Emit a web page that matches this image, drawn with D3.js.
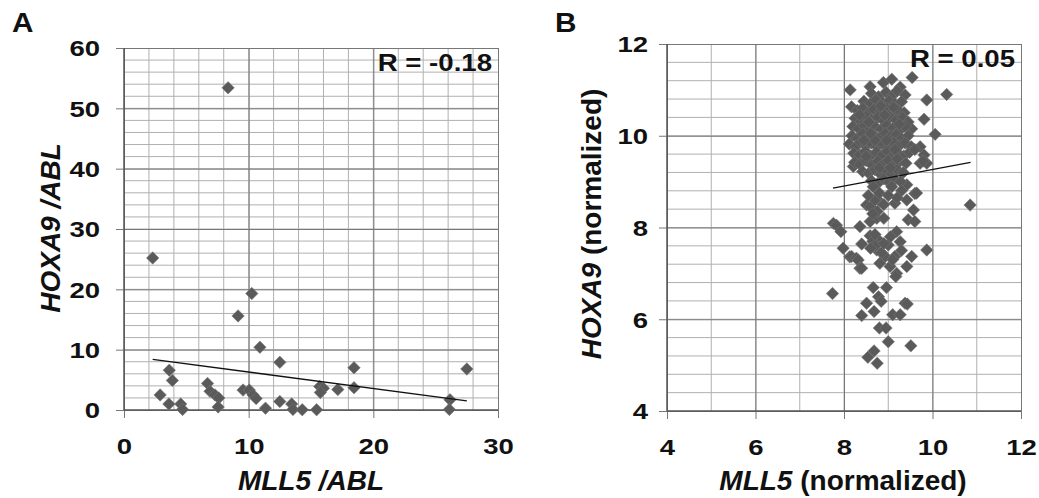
<!DOCTYPE html>
<html>
<head>
<meta charset="utf-8">
<script src="https://cdn.jsdelivr.net/npm/d3@7"></script>
<style>
  body { margin: 0; background: #fff; }
  text { font-family: "Liberation Sans", Arial, sans-serif; font-weight: bold; fill: #111; }
</style>
</head>
<body>
<div id="chart"></div>
<script>
// panel A: MLL5/ABL vs HOXA9/ABL (qPCR)
const aPoints = [
    [8.35,53.4],[2.3,25.2],[10.25,19.3],[9.15,15.6],[10.9,10.4],[12.5,7.9],[18.45,7.0],[27.5,6.8],
    [3.63,6.6],[3.88,4.9],[2.9,2.5],[3.6,1.0],[4.55,1.0],[4.7,0.1],[6.7,4.4],[6.9,3.1],[7.3,2.5],
    [7.6,2.0],[7.55,0.5],[9.55,3.3],[10.05,3.3],[10.35,2.5],[10.6,1.9],[11.35,0.3],[12.5,1.4],
    [13.45,1.0],[13.55,0.1],[14.3,0.05],[15.45,0.05],[15.7,3.9],[16.0,3.6],[15.75,2.9],[17.15,3.4],
    [18.45,3.7],[26.15,1.7],[26.1,0.1]
];
const aTrend = [[2.3,8.4],[27.5,1.5]];
const aXTicks = [0,10,20,30];
const aYTicks = [0,10,20,30,40,50,60];

// panel B: normalized expression (microarray)
const bPoints = [
    // upper sparse
    [9.54,11.27],[10.32,10.9],[8.14,11.0],[8.59,11.07],[8.89,11.16],[9.08,11.23],[9.27,11.06],[9.38,10.89],
    [8.17,10.63],[9.87,10.78],[9.81,10.36],[9.53,10.15],[10.06,10.03],[9.72,9.76],[9.81,9.58],[9.87,9.4],
    [9.72,9.4],[8.21,9.33],[9.79,9.45],[9.6,8.74],[9.42,8.93],
    // dense core
    [8.62,10.92],[8.78,10.85],[8.95,10.95],[9.1,10.88],[9.2,10.98],
    [8.45,10.75],[8.6,10.7],[8.72,10.78],[8.88,10.72],[9.02,10.76],[9.15,10.7],[9.3,10.74],
    [8.3,10.55],[8.42,10.6],[8.55,10.5],[8.68,10.58],[8.82,10.52],[8.96,10.6],[9.08,10.5],[9.22,10.56],[9.36,10.5],
    [8.25,10.38],[8.38,10.3],[8.5,10.42],[8.63,10.35],[8.76,10.4],[8.9,10.32],[9.04,10.4],[9.18,10.34],[9.32,10.4],[9.45,10.3],
    [8.2,10.2],[8.33,10.15],[8.46,10.22],[8.58,10.12],[8.7,10.2],[8.84,10.14],[8.97,10.22],[9.1,10.16],[9.24,10.1],[9.38,10.2],
    [8.18,10.0],[8.3,9.94],[8.42,10.04],[8.55,9.96],[8.67,10.02],[8.8,9.95],[8.93,10.05],[9.05,9.98],[9.18,10.02],[9.3,9.94],[9.45,10.0],
    [8.12,9.82],[8.26,9.76],[8.38,9.86],[8.5,9.78],[8.62,9.84],[8.75,9.76],[8.88,9.82],[9.0,9.75],[9.12,9.85],[9.25,9.78],[9.38,9.84],[9.52,9.76],
    [8.22,9.62],[8.35,9.58],[8.48,9.66],[8.6,9.56],[8.73,9.64],[8.86,9.58],[8.98,9.66],[9.1,9.56],[9.22,9.62],[9.35,9.56],[9.48,9.64],[9.6,9.7],
    [8.24,9.42],[8.36,9.38],[8.5,9.46],[8.63,9.36],[8.76,9.44],[8.88,9.38],[9.0,9.46],[9.13,9.36],[9.26,9.44],[9.4,9.4],
    [8.42,9.22],[8.56,9.18],[8.7,9.26],[8.83,9.16],[8.96,9.24],[9.08,9.16],[9.2,9.26],[9.34,9.2],
    [8.62,9.02],[8.76,8.96],[8.9,9.06],[9.02,8.98],[9.15,9.04],[9.28,9.0],
    [8.56,10.3],[8.83,10.65],[9.12,10.62],[8.7,9.9],[8.96,9.9],[9.2,9.5],[8.45,9.9],[8.8,9.3],[9.05,9.3],
    [8.35,10.45],[9.25,10.25],[8.6,10.05],[8.92,10.45],[8.5,9.55],[9.15,9.7],
    // middle band
    [8.66,8.89],[9.08,8.89],[9.64,8.75],[8.51,8.49],[8.81,8.56],[9.15,8.53],[9.42,8.6],[9.57,8.38],
    [8.74,8.2],[8.59,8.13],[9.45,8.17],[9.6,8.13],[10.85,8.49],[8.6,8.45],[8.7,8.6],[8.75,8.35],[8.9,8.5],
    [8.65,8.3],[8.8,8.75],[9.0,8.7],[9.3,8.8],[9.2,8.65],[8.55,8.7],[8.9,8.2],
    [7.76,8.09],[7.83,8.05],[7.93,7.91],[7.98,7.55],[8.13,7.36],[8.17,7.37],[8.28,7.33],[8.32,7.29],
    [8.36,7.11],[8.4,7.11],[8.36,8.02],[8.4,7.64],[8.59,7.82],[8.78,7.73],[9.19,7.91],[9.27,7.69],
    [9.0,7.62],[8.74,7.51],[9.87,7.51],[8.93,7.37],[9.15,7.37],[9.53,7.37],[8.81,7.22],[9.04,7.15],
    [9.19,7.0],[9.42,7.15],[9.17,6.93],[8.65,7.7],[8.7,7.6],[8.85,7.45],[8.6,7.55],[8.9,7.65],
    [9.05,7.8],[9.1,7.3],[8.7,7.85],[9.3,7.5],
    // lower tail
    [7.74,6.56],[8.66,6.69],[8.96,6.69],[8.78,6.49],[8.84,6.39],[8.51,6.35],[8.68,6.17],[8.4,6.08],
    [9.38,6.35],[9.43,6.33],[9.1,6.1],[9.27,6.1],[8.8,5.81],[8.95,5.81],[9.0,5.51],[9.51,5.42],
    [8.68,5.31],[8.54,5.17],[8.75,5.04]
];
const bTrend = [[7.75,8.86],[10.86,9.42]];
const bXTicks = [4,6,8,10,12];
const bYTicks = [4,6,8,10,12];

const width = 1039;
const height = 498;
const stretch = 1.25; // tick labels in the figure are wide

let svg = d3.select("#chart").append("svg")
    .attr("width", width)
    .attr("height", height);

const panel = (cfg) => {
    const x = d3.scaleLinear().domain(cfg.xDomain).range([cfg.left, cfg.right]);
    const y = d3.scaleLinear().domain(cfg.yDomain).range([cfg.bottom, cfg.top]);
    const g = svg.append("g");

    // minor grid
    g.append("g").selectAll("line").data(cfg.xMinor).join("line")
        .attr("x1", d => x(d)).attr("x2", d => x(d))
        .attr("y1", cfg.top).attr("y2", cfg.bottom)
        .attr("stroke", "#b0b0b0").attr("stroke-width", 1);
    g.append("g").selectAll("line").data(cfg.yMinor).join("line")
        .attr("y1", d => y(d)).attr("y2", d => y(d))
        .attr("x1", cfg.left).attr("x2", cfg.right)
        .attr("stroke", "#b0b0b0").attr("stroke-width", 1);

    // major grid + ticks via axes
    const yAxis = g.append("g")
        .attr("transform", `translate(${cfg.left},0)`)
        .call(d3.axisLeft(y).tickValues(cfg.yTicks).tickSizeOuter(0));
    yAxis.selectAll(".tick line").attr("x1", -8).attr("x2", cfg.right - cfg.left)
        .attr("stroke", "#777");
    yAxis.selectAll(".tick text")
        .attr("x", -cfg.yPad / stretch).attr("dy", "0.36em")
        .attr("transform", `scale(${stretch},1)`)
        .style("font-size", "22px").style("font-weight", "bold");
    yAxis.select(".domain").remove();

    const xAxis = g.append("g")
        .attr("transform", `translate(0,${cfg.bottom})`)
        .call(d3.axisBottom(x).tickValues(cfg.xTicks).tickSizeOuter(0));
    xAxis.selectAll(".tick line").attr("y1", 8).attr("y2", cfg.top - cfg.bottom)
        .attr("stroke", "#777");
    xAxis.selectAll(".tick text").attr("y", 28).attr("dy", "0.71em")
        .attr("transform", `scale(${stretch},1)`)
        .style("font-size", "22px").style("font-weight", "bold");
    xAxis.select(".domain").remove();
    g.selectAll(".tick text").attr("fill", "#111").style("font-family", "'Liberation Sans', Arial, sans-serif");

    // axis lines
    g.append("line").attr("x1", cfg.left).attr("x2", cfg.left).attr("y1", cfg.top).attr("y2", cfg.bottom)
        .attr("stroke", "#555").attr("stroke-width", 1.5);
    g.append("line").attr("x1", cfg.left).attr("x2", cfg.right).attr("y1", cfg.bottom).attr("y2", cfg.bottom)
        .attr("stroke", "#555").attr("stroke-width", 1.5);

    // points
    const diamond = d3.symbol().type(d3.symbolSquare).size(78);
    g.append("g").selectAll("path").data(cfg.points).join("path")
        .attr("d", diamond)
        .attr("transform", d => `translate(${x(d[0])},${y(d[1])}) rotate(45)`)
        .attr("fill", "#5a5a5a")
        .attr("stroke", "#7a7a7a")
        .attr("stroke-width", 0.5);

    // trend line
    g.append("line")
        .attr("x1", x(cfg.trend[0][0])).attr("y1", y(cfg.trend[0][1]))
        .attr("x2", x(cfg.trend[1][0])).attr("y2", y(cfg.trend[1][1]))
        .attr("stroke", "#111").attr("stroke-width", 1.3);

    // R label
    g.append("text")
        .attr("transform", `translate(${cfg.right - 6},${cfg.top + 23}) scale(1.15,1)`)
        .attr("text-anchor", "end").style("font-size", "24px")
        .text(cfg.rText);

    // panel letter
    g.append("text")
        .attr("transform", `translate(${cfg.letterX},32) scale(1.1,1)`)
        .style("font-size", "27px").text(cfg.letter);

    // axis titles
    const xt = g.append("text").attr("x", (cfg.left + cfg.right) / 2 + cfg.xTitleShift).attr("y", 490)
        .attr("text-anchor", "middle").style("font-size", "28px");
    cfg.xTitle.forEach(p => xt.append("tspan").style("font-style", p[1] ? "italic" : "normal").text(p[0]));

    const yt = g.append("text")
        .attr("transform", `translate(${cfg.yTitleX},${cfg.yTitleY}) rotate(-90)`)
        .attr("text-anchor", "middle").style("font-size", "28px");
    cfg.yTitle.forEach(p => yt.append("tspan").style("font-style", p[1] ? "italic" : "normal").text(p[0]));
};

panel({
    left: 124, right: 498, top: 48, bottom: 410,
    xDomain: [0, 30], yDomain: [0, 60],
    xTicks: aXTicks, yTicks: aYTicks,
    xMinor: d3.range(2, 30, 2), yMinor: d3.range(2, 60, 2),
    points: aPoints, trend: aTrend, rText: "R = -0.18",
    letter: "A", letterX: 12, yPad: 24,
    xTitle: [["MLL5 /ABL", true]], xTitleShift: 0,
    yTitle: [["HOXA9 /ABL", true]], yTitleX: 60, yTitleY: 228
});

panel({
    left: 667, right: 1021, top: 44, bottom: 411,
    xDomain: [4, 12], yDomain: [4, 12],
    xTicks: bXTicks, yTicks: bYTicks,
    xMinor: d3.range(5, 12, 1), yMinor: d3.range(4.4, 11.9, 0.4),
    points: bPoints, trend: bTrend, rText: "R = 0.05",
    letter: "B", letterX: 555, yPad: 19,
    xTitle: [["MLL5", true], [" (normalized)", false]], xTitleShift: -1,
    yTitle: [["HOXA9", true], [" (normalized)", false]], yTitleX: 601, yTitleY: 224
});
</script>
</body>
</html>
